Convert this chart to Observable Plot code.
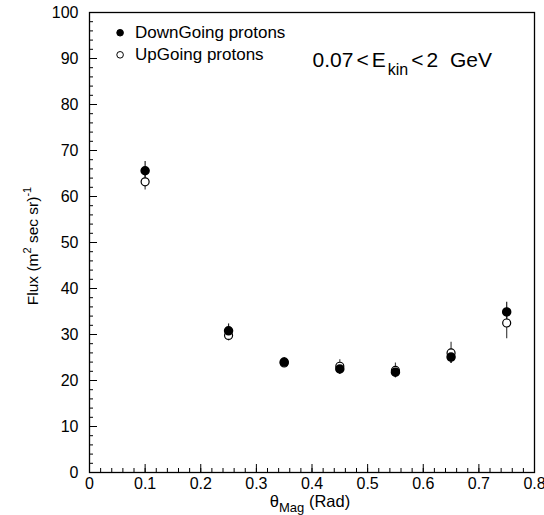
<!DOCTYPE html>
<html><head><meta charset="utf-8">
<script src="https://cdn.jsdelivr.net/npm/d3@7"></script>
<script src="https://cdn.jsdelivr.net/npm/@observablehq/plot@0.6"></script>
<style>
body{margin:0;background:#fff}
#chart svg{font-family:"Liberation Sans",Arial,sans-serif;background:#fff}
</style>
</head><body><div id="chart"></div>
<script>
// ---- data ----
const theta = [0.10, 0.25, 0.35, 0.45, 0.55, 0.65, 0.75];
const downFlux = [65.6, 30.8, 24.0, 22.5, 21.8, 25.1, 34.9];
const downErr  = [2.0, 1.5, 1.0, 1.2, 1.2, 1.4, 2.1];
const upFlux   = [63.2, 29.8, 23.8, 23.1, 22.2, 26.0, 32.5];
const upErr    = [1.8, 1.2, 1.0, 1.4, 1.6, 2.3, 3.4];
const xTickLabels = ["0","0.1","0.2","0.3","0.4","0.5","0.6","0.7","0.8"];
const yTickLabels = ["0","10","20","30","40","50","60","70","80","90","100"];
const legendLabels = ["DownGoing protons", "UpGoing protons"];

// ---- layout ----
const W = 544, H = 515;
const mL = 89, mR = 10, mT = 12, mB = 43;
const FW = W - mL - mR, FH = H - mT - mB;

const xTicks = xTickLabels.map(Number);
const yTicks = yTickLabels.map(Number);
const xMinor = d3.range(0, 0.8001, 0.02).map(v => +v.toFixed(2));
const yMinor = d3.range(0, 100.001, 2);

const down = theta.map((t, i) => ({x: t, y: downFlux[i], lo: downFlux[i] - downErr[i], hi: downFlux[i] + downErr[i]}));
const up = theta.map((t, i) => ({x: t, y: upFlux[i], lo: upFlux[i] - upErr[i], hi: upFlux[i] + upErr[i]}));
const legend = [
  {x: 0.055, y: 95.6, label: legendLabels[0], filled: true},
  {x: 0.055, y: 90.8, label: legendLabels[1], filled: false}
];

const font = "'Liberation Sans', Arial, sans-serif";
const plot = Plot.plot({
  width: W, height: H,
  marginLeft: mL, marginRight: mR, marginTop: mT, marginBottom: mB,
  style: {fontSize: "16px", fontFamily: font, color: "black"},
  x: {domain: [0, 0.8]},
  y: {domain: [0, 100]},
  marks: [
    Plot.tickX(xMinor, {x: d => d, insetTop: FH - 4, stroke: "black"}),
    Plot.tickX(xTicks, {x: d => d, insetTop: FH - 8, stroke: "black"}),
    Plot.tickY(yMinor, {y: d => d, insetRight: FW - 4, stroke: "black"}),
    Plot.tickY(yTicks, {y: d => d, insetRight: FW - 8, stroke: "black"}),
    Plot.frame({stroke: "black", strokeWidth: 1.3}),
    Plot.axisX({ticks: xTicks, tickSize: 0, tickPadding: 5, tickFormat: d => xTickLabels[xTicks.indexOf(d)], label: null, fontSize: 16}),
    Plot.axisY({ticks: yTicks, tickSize: 0, tickPadding: 11, tickFormat: d => yTickLabels[yTicks.indexOf(d)], label: null, fontSize: 16}),
    Plot.ruleX(up, {x: "x", y1: "lo", y2: "hi", stroke: "#444", strokeWidth: 1.2}),
    Plot.ruleX(down, {x: "x", y1: "lo", y2: "hi", stroke: "#222", strokeWidth: 1.2}),
    Plot.dot(up, {x: "x", y: "y", r: 4, fill: "white", stroke: "black", strokeWidth: 1.2}),
    Plot.dot(down, {x: "x", y: "y", r: 4, fill: "black", stroke: "black"}),
    Plot.dot(legend, {x: "x", y: "y", r: 3.3, fill: d => d.filled ? "black" : "white", stroke: "black", strokeWidth: 1}),
    Plot.text(legend, {x: "x", y: "y", text: "label", dx: 15, textAnchor: "start", fontSize: 17, fill: "black"})
  ]
});

document.getElementById("chart").append(plot);
const svg = d3.select(plot);
const xs = plot.scale("x"), ys = plot.scale("y");

// Annotation 0.07<E_kin<2 GeV
const ann = svg.append("text")
  .attr("x", xs.apply(0.402)).attr("y", ys.apply(88.1))
  .attr("text-anchor", "start")
  .attr("font-size", 21).attr("font-family", font).attr("fill", "black");
ann.append("tspan").text("0.07");
ann.append("tspan").attr("dx", 3).text("<");
ann.append("tspan").attr("dx", 3).text("E");
ann.append("tspan").attr("font-size", 16).attr("dx", 2).attr("dy", 8).text("kin");
ann.append("tspan").attr("dx", 3).attr("dy", -8).text("<");
ann.append("tspan").attr("dx", 3).text("2");
ann.append("tspan").attr("dx", 6).text(" GeV");

// X title
const xt = svg.append("text")
  .attr("x", 310).attr("y", H - 8)
  .attr("text-anchor", "middle").attr("font-size", 16.5).attr("font-family", font).attr("fill", "black");
xt.append("tspan").text("θ");
xt.append("tspan").attr("font-size", 13).attr("dy", 5).text("Mag");
xt.append("tspan").attr("dy", -5).text(" (Rad)");

// Y title
const yt = svg.append("text")
  .attr("transform", `translate(38,246) rotate(-90)`)
  .attr("text-anchor", "middle").attr("font-size", 15.5).attr("font-family", font).attr("fill", "black");
yt.append("tspan").text("Flux (m");
yt.append("tspan").attr("font-size", 11).attr("dy", -7).text("2");
yt.append("tspan").attr("dy", 7).text(" sec sr)");
yt.append("tspan").attr("font-size", 11).attr("dy", -7).text("-1");
</script>
</body></html>
